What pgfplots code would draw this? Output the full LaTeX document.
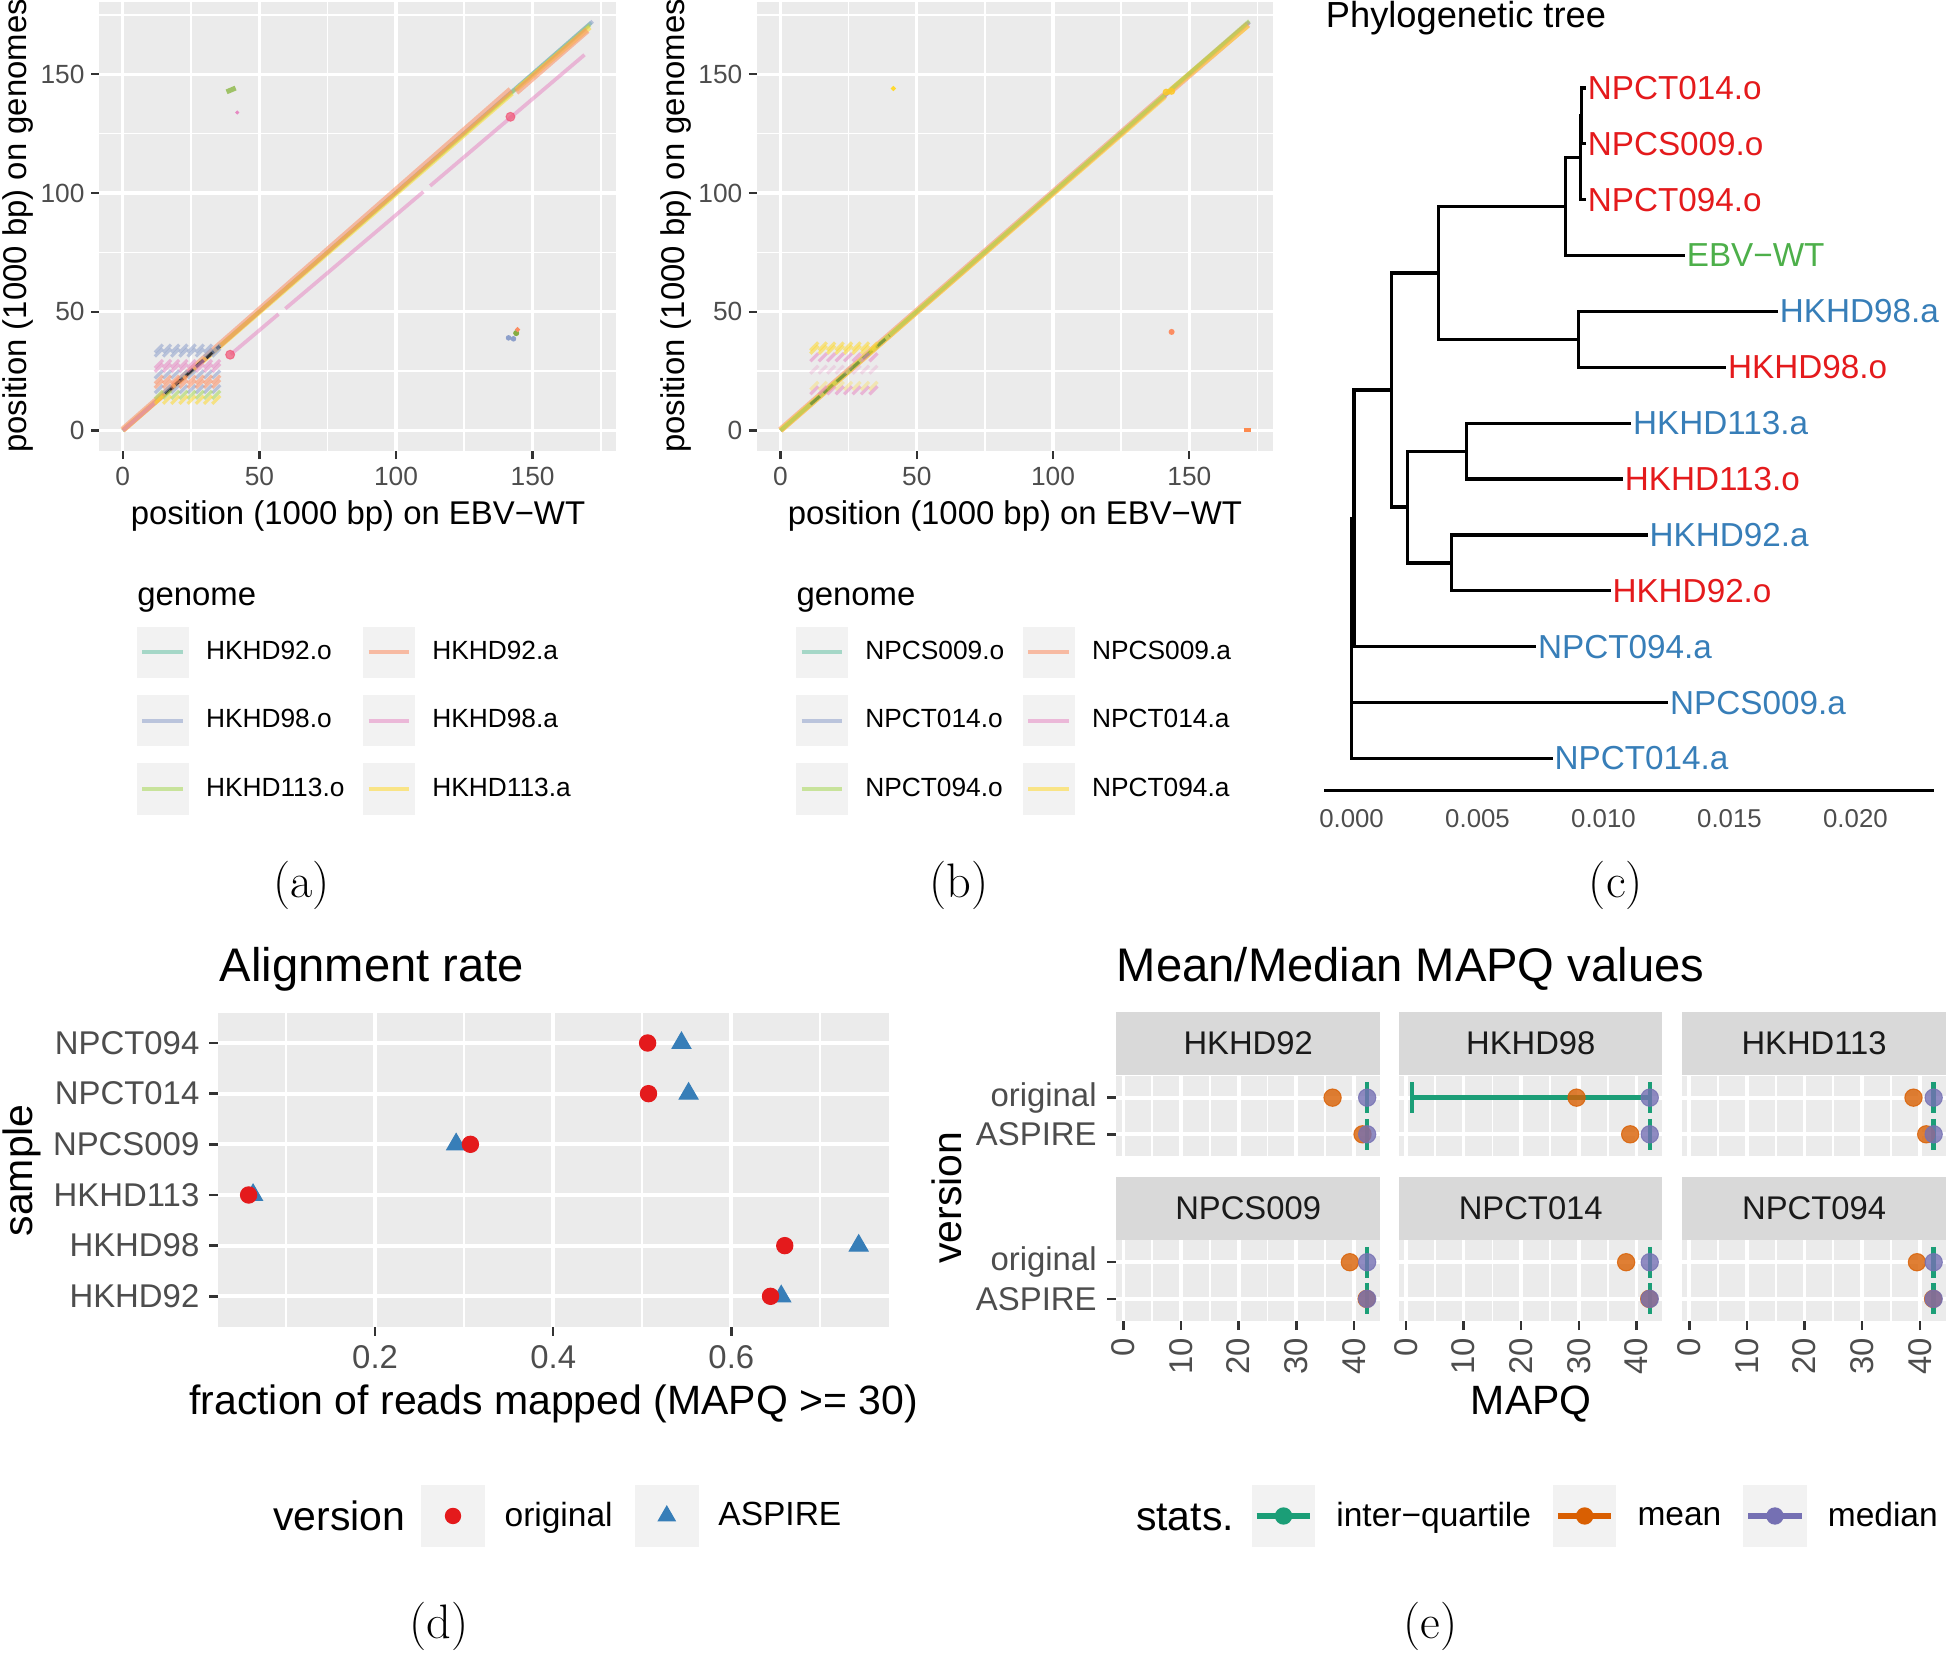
\documentclass[border=0pt]{standalone}
\usepackage{fontspec}
\setsansfont{Liberation Sans}
\renewcommand{\familydefault}{\sfdefault}
\usepackage{pgfplots}
\pgfplotsset{compat=1.18}

\definecolor{ggbg}{HTML}{EBEBEB}
\definecolor{ggkey}{HTML}{F2F2F2}
\definecolor{ggstrip}{HTML}{D9D9D9}
\definecolor{g30}{HTML}{4D4D4D}
\definecolor{g20}{HTML}{333333}
\definecolor{g10}{HTML}{1A1A1A}
\definecolor{sA}{HTML}{66C2A5}
\definecolor{sB}{HTML}{FC8D62}
\definecolor{sC}{HTML}{8DA0CB}
\definecolor{sD}{HTML}{E78AC3}
\definecolor{sE}{HTML}{A6D854}
\definecolor{sF}{HTML}{FFD92F}
\definecolor{red1}{HTML}{E41A1C}
\definecolor{blue1}{HTML}{377EB8}
\definecolor{green1}{HTML}{4DAF4A}
\definecolor{dgreen}{HTML}{1B9E77}
\definecolor{dorange}{HTML}{D95F02}
\definecolor{dpurple}{HTML}{7570B3}

\newcommand{\fs}[1]{\fontsize{#1}{#1}\selectfont}

% short diagonal dash, for the repeat blocks of the dot plots
\pgfdeclareplotmark{dg}{%
  \pgfpathmoveto{\pgfqpoint{-\pgfplotmarksize}{-\pgfplotmarksize}}%
  \pgfpathlineto{\pgfqpoint{\pgfplotmarksize}{\pgfplotmarksize}}%
  \pgfusepathqstroke}

\tikzset{
  seg/.style={line width=1.5pt, opacity=0.55},
  rep/.style={only marks, mark=dg, mark size=1.6pt, line width=1.3pt, opacity=0.55},
  iqr/.style={dgreen, line width=1.8pt, mark=|, mark size=6.2pt},
  mn/.style={only marks, mark=*, mark size=3.5pt, dorange, opacity=0.8},
  md/.style={only marks, mark=*, mark size=3.5pt, dpurple, opacity=0.8},
}

\pgfplotsset{
  gg/.style={
    scale only axis,
    axis background/.style={fill=ggbg},
    axis line style={draw=none},
    tick align=outside, tick pos=left,
    major tick length=3.3pt, minor tick length=0pt,
    tick style={g20, line width=0.9pt},
    grid=both,
    major grid style={white, line width=1.3pt},
    minor grid style={white, line width=0.65pt},
    /pgf/number format/assume math mode=true,
    ticklabel style={text=g30, inner sep=0pt, font=\fs{10.6}},
    unbounded coords=jump,
  },
  facet/.style={
    gg, width=106.1pt, height=32.5pt,
    xmin=-1.2, xmax=44.5, ymin=0.4, ymax=2.6,
    xtick={0,10,20,30,40}, minor xtick={5,15,25,35},
    ytick={1,2}, yticklabels={ASPIRE,original},
    major tick length=3.7pt, tick style={g20, line width=1pt},
    ticklabel style={font=\fs{13.25}},
    major grid style={white, line width=1.5pt},
    minor grid style={white, line width=0.75pt},
    yticklabel shift=4.1pt,
    every axis title/.style={at={(0.5,1)}, anchor=south, fill=ggstrip,
      minimum width=106.1pt, minimum height=25.4pt, inner sep=0pt,
      text=g10, font=\fs{13.2}},
  },
  toprow/.style={xticklabels={}, xtick style={draw=none}},
  botrow/.style={xticklabel style={rotate=90, anchor=east}, xticklabel shift=3.05pt},
  noy/.style={yticklabels={}, ytick style={draw=none}},
}

\newcommand{\keyA}[1]{%
  \path[draw=none, fill=none] (-7.5pt,-13.75pt) rectangle (27.9pt,13.75pt);
  \fill[ggkey, draw=none] (0pt,-10.4pt) rectangle (20.9pt,10.4pt);
  \draw[#1, opacity=0.55, line width=1.6pt] (2.2pt,0pt) -- (18.7pt,0pt);}
\newcommand{\keyD}[1]{%
  \path[draw=none, fill=none] (-9pt,-12.6pt) rectangle (33.6pt,12.6pt);
  \fill[ggkey, draw=none] (0pt,-12.6pt) rectangle (25.6pt,12.6pt);
  #1}
\newcommand{\keyE}[1]{%
  \path[draw=none, fill=none] (-8.8pt,-12.6pt) rectangle (34.1pt,12.6pt);
  \fill[ggkey, draw=none] (0pt,-12.6pt) rectangle (25.6pt,12.6pt);
  \draw[#1, line width=2.2pt] (2pt,0pt) -- (23.6pt,0pt);
  \fill[#1, draw=none] (12.8pt,0pt) circle (3.5pt);}
\newcommand{\ph}{\vphantom{Ag}}

\begin{document}
\begin{tikzpicture}
\useasboundingbox (0,0) rectangle (784pt,-666pt);

%%%%%%%%%%%%%%%% (a) dot plot, HKHD genomes
\begin{axis}[gg, at={(40pt,-0.65pt)}, anchor=north west, width=208.25pt, height=181pt,
  xmin=-8.6, xmax=180.6, ymin=-8.6, ymax=180.6,
  xtick={0,50,100,150}, ytick={0,50,100,150},
  minor xtick={25,75,125,175}, minor ytick={25,75,125,175},
  xticklabel shift=3.2pt, yticklabel shift=2.45pt,
  legend columns=2, legend cell align=left,
  legend style={at={(0.0365,-0.3724)}, anchor=north west, draw=none, fill=none,
    inner sep=0pt, outer sep=0pt, nodes={inner sep=0pt}, font=\fs{10.6},
    column sep=0pt, row sep=0pt},
]
\addplot[forget plot, seg, sA] coordinates {(0,0) (171.5,171.8)};
\addplot[forget plot, seg, sC] coordinates {(0,0) (172,172.3)};
\addplot[forget plot, seg, sE] coordinates {(0,0) (171,170.8)};
\addplot[forget plot, seg, sF, line width=2pt] coordinates {(0,0) (142.5,142) (nan,nan) (144,143.5) (171,169.8)};
\addplot[forget plot, seg, sB, line width=2.6pt] coordinates {(0,0.3) (142,143.5) (nan,nan) (144,142.5) (170,168.5)};
\addplot[forget plot, seg, sD] coordinates {(0,0) (12,12) (nan,nan) (39.5,32) (57,49) (nan,nan)
  (59.5,51.3) (110,100.5) (nan,nan) (112.5,103) (169,158.2)};
\addplot[forget plot, g20, line width=1.3pt, dash pattern=on 4pt off 1.5pt] coordinates {(15.5,15.5) (35.5,35.5)};
\addplot[forget plot, only marks, mark=*, mark size=1.8pt, color=sD!60!red, opacity=0.7] coordinates {(39.3,31.9) (141.9,132.1)};
\addplot[forget plot, sE!85!black, line width=2pt, opacity=0.8] coordinates {(38,142.6) (41.3,144.2)};
\addplot[forget plot, only marks, mark=*, mark size=0.6pt, sD] coordinates {(41.9,133.9)};
\addplot[forget plot, only marks, mark=*, mark size=0.9pt, sC] coordinates {(141.2,39) (143,38.6)};
\addplot[forget plot, only marks, mark=*, mark size=1pt, sE!80!black] coordinates {(144,41)};
\addplot[forget plot, only marks, mark=*, mark size=0.8pt, sB] coordinates {(144.5,42.5)};
% repeat block
\addplot[forget plot, rep, sC] coordinates {
  (13.2,34.5) (16.2,34.5) (19.2,34.5) (22.2,34.5) (25.2,34.5) (28.2,34.5) (31.2,34.5) (34.2,34.5)
  (13.2,32.8) (16.2,32.8) (19.2,32.8) (22.2,32.8) (25.2,32.8) (28.2,32.8) (31.2,32.8) (34.2,32.8)
  (13.2,23.6) (16.2,23.6) (19.2,23.6) (22.2,23.6) (25.2,23.6) (28.2,23.6) (31.2,23.6) (34.2,23.6)
  (13.2,17.4) (16.2,17.4) (19.2,17.4) (22.2,17.4) (25.2,17.4) (28.2,17.4) (31.2,17.4) (34.2,17.4)};
\addplot[forget plot, rep, sD] coordinates {
  (13.2,28) (16.2,28) (19.2,28) (22.2,28) (25.2,28) (28.2,28) (31.2,28) (34.2,28)
  (13.2,26.4) (16.2,26.4) (19.2,26.4) (22.2,26.4) (25.2,26.4) (28.2,26.4) (31.2,26.4) (34.2,26.4)};
\addplot[forget plot, rep, sB] coordinates {
  (13.2,21.4) (16.2,21.4) (19.2,21.4) (22.2,21.4) (25.2,21.4) (28.2,21.4) (31.2,21.4) (34.2,21.4)
  (13.2,19.6) (16.2,19.6) (19.2,19.6) (22.2,19.6) (25.2,19.6) (28.2,19.6) (31.2,19.6) (34.2,19.6)};
\addplot[forget plot, rep, sE] coordinates {
  (13.2,15) (16.2,15) (19.2,15) (22.2,15) (25.2,15) (28.2,15) (31.2,15) (34.2,15)};
\addplot[forget plot, rep, sF] coordinates {
  (13.2,12.9) (16.2,12.9) (19.2,12.9) (22.2,12.9) (25.2,12.9) (28.2,12.9) (31.2,12.9) (34.2,12.9)};
\addlegendimage{legend image code/.code={\keyA{sA}}}\addlegendentry{HKHD92.o}
\addlegendimage{legend image code/.code={\keyA{sB}}}\addlegendentry{HKHD92.a}
\addlegendimage{legend image code/.code={\keyA{sC}}}\addlegendentry{HKHD98.o}
\addlegendimage{legend image code/.code={\keyA{sD}}}\addlegendentry{HKHD98.a}
\addlegendimage{legend image code/.code={\keyA{sE}}}\addlegendentry{HKHD113.o}
\addlegendimage{legend image code/.code={\keyA{sF}}}\addlegendentry{HKHD113.a}
\end{axis}

%%%%%%%%%%%%%%%% (b) dot plot, NPC genomes
\begin{axis}[gg, at={(305pt,-0.65pt)}, anchor=north west, width=207.75pt, height=181pt,
  xmin=-8.6, xmax=180.6, ymin=-8.6, ymax=180.6,
  xtick={0,50,100,150}, ytick={0,50,100,150},
  minor xtick={25,75,125,175}, minor ytick={25,75,125,175},
  xticklabel shift=3.2pt, yticklabel shift=2.45pt,
  legend columns=2, legend cell align=left,
  legend style={at={(0.0395,-0.3724)}, anchor=north west, draw=none, fill=none,
    inner sep=0pt, outer sep=0pt, nodes={inner sep=0pt}, font=\fs{10.6},
    column sep=0pt, row sep=0pt},
]
\addplot[forget plot, seg, sA] coordinates {(0,0) (172,172)};
\addplot[forget plot, seg, sC] coordinates {(0,0) (172,172)};
\addplot[forget plot, seg, sD] coordinates {(0,0) (172,172)};
\addplot[forget plot, seg, sB, line width=2.6pt] coordinates {(0,0.2) (141,141.3) (nan,nan) (143.5,143.3) (171.5,171)};
\addplot[forget plot, seg, sF, line width=2.2pt] coordinates {(0,0) (141,140.6) (nan,nan) (142,142.2) (171.5,170.6)};
\addplot[forget plot, seg, sE] coordinates {(0,0) (172,172.5)};
\addplot[forget plot, sE!65!black, line width=1.2pt, opacity=0.8, dash pattern=on 5pt off 2pt] coordinates {(11,11) (40,40)};
\addplot[forget plot, only marks, mark=*, mark size=1.2pt, sF!80!orange, opacity=0.8] coordinates {(141.5,142.5) (143.5,142.8)};
\addplot[forget plot, only marks, mark=*, mark size=0.8pt, sF] coordinates {(41.4,144)};
\addplot[forget plot, only marks, mark=*, mark size=1pt, sB] coordinates {(143.5,41.5)};
\addplot[forget plot, sB!80!orange, line width=1.6pt] coordinates {(170,0.3) (172.5,0.3)};
\addplot[forget plot, rep, sF] coordinates {
  (12.4,35.4) (15.5,35.4) (18.6,35.4) (21.7,35.4) (24.8,35.4) (27.9,35.4) (31,35.4) (34.1,35.4)
  (12.4,34) (15.5,34) (18.6,34) (21.7,34) (24.8,34) (27.9,34) (31,34) (34.1,34)};
\addplot[forget plot, rep, sD] coordinates {
  (12.4,30.8) (15.5,30.8) (18.6,30.8) (21.7,30.8) (24.8,30.8) (27.9,30.8) (31,30.8) (34.1,30.8)
  (12.4,16.9) (15.5,16.9) (18.6,16.9) (21.7,16.9) (24.8,16.9) (27.9,16.9) (31,16.9) (34.1,16.9)};
\addplot[forget plot, rep, sD, opacity=0.25] coordinates {
  (12.4,25.6) (15.5,25.6) (18.6,25.6) (21.7,25.6) (24.8,25.6) (27.9,25.6) (31,25.6) (34.1,25.6)};
\addplot[forget plot, rep, sF, opacity=0.3] coordinates {
  (12.4,18.8) (15.5,18.8) (18.6,18.8) (21.7,18.8) (24.8,18.8) (27.9,18.8) (31,18.8) (34.1,18.8)};
\addlegendimage{legend image code/.code={\keyA{sA}}}\addlegendentry{NPCS009.o}
\addlegendimage{legend image code/.code={\keyA{sB}}}\addlegendentry{NPCS009.a}
\addlegendimage{legend image code/.code={\keyA{sC}}}\addlegendentry{NPCT014.o}
\addlegendimage{legend image code/.code={\keyA{sD}}}\addlegendentry{NPCT014.a}
\addlegendimage{legend image code/.code={\keyA{sE}}}\addlegendentry{NPCT094.o}
\addlegendimage{legend image code/.code={\keyA{sF}}}\addlegendentry{NPCT094.a}
\end{axis}

%%%%%%%%%%%%%%%% (c) phylogenetic tree
\begin{axis}[at={(533.5pt,-318.5pt)}, anchor=south west, scale only axis,
  width=245.5pt, height=298.85pt,
  xmin=-0.001084, xmax=0.023103, ymin=0.427, ymax=13.7,
  axis x line*=bottom, axis y line=none,
  x axis line style={line width=1.25pt, black, -},
  xtick={0,0.005,0.01,0.015,0.02}, scaled x ticks=false,
  xticklabel style={/pgf/number format/fixed, /pgf/number format/fixed zerofill,
    /pgf/number format/precision=3, text=g30, font=\fs{10.4}, inner sep=0pt},
  major tick length=0pt, xticklabel shift=7.25pt,
  /pgf/number format/assume math mode=true,
  clip=false, unbounded coords=jump,
]
\addplot[black, line width=1.3pt, line join=miter] coordinates {
  (0.0001,5.297) (0,5.297) (0,1) (0.00798,1) (nan,nan)
  (0,2) (0.01257,2) (nan,nan)
  (0.00159,7.594) (0.0001,7.594) (0.0001,3) (0.00733,3) (nan,nan)
  (0.00344,9.6875) (0.00159,9.6875) (0.00159,5.5) (0.00221,5.5) (nan,nan)
  (0.00848,10.875) (0.00344,10.875) (0.00344,8.5) (0.00902,8.5) (nan,nan)
  (0.0091,11.75) (0.00848,11.75) (0.00848,10) (0.01323,10) (nan,nan)
  (0.00912,12.5) (0.0091,12.5) (0.0091,11) (0.0093,11) (nan,nan)
  (0.0093,13) (0.00912,13) (0.00912,12) (0.0093,12) (nan,nan)
  (0.01692,9) (0.00902,9) (0.00902,8) (0.01487,8) (nan,nan)
  (0.00457,6.5) (0.00221,6.5) (0.00221,4.5) (0.00397,4.5) (nan,nan)
  (0.0111,7) (0.00457,7) (0.00457,6) (0.01077,6) (nan,nan)
  (0.01175,5) (0.00397,5) (0.00397,4) (0.01028,4)};
\begin{scope}[every node/.style={anchor=west, inner sep=0.6pt, font=\fs{13.4}}]
\node[text=red1] at (axis cs:0.0093,13) {NPCT014.o};
\node[text=red1] at (axis cs:0.0093,12) {NPCS009.o};
\node[text=red1] at (axis cs:0.0093,11) {NPCT094.o};
\node[text=green1] at (axis cs:0.01323,10) {EBV−WT};
\node[text=blue1] at (axis cs:0.01692,9) {HKHD98.a};
\node[text=red1] at (axis cs:0.01487,8) {HKHD98.o};
\node[text=blue1] at (axis cs:0.0111,7) {HKHD113.a};
\node[text=red1] at (axis cs:0.01077,6) {HKHD113.o};
\node[text=blue1] at (axis cs:0.01175,5) {HKHD92.a};
\node[text=red1] at (axis cs:0.01028,4) {HKHD92.o};
\node[text=blue1] at (axis cs:0.00733,3) {NPCT094.a};
\node[text=blue1] at (axis cs:0.01257,2) {NPCS009.a};
\node[text=blue1] at (axis cs:0.00798,1) {NPCT014.a};
\end{scope}
\end{axis}

%%%%%%%%%%%%%%%% (d) alignment rate
\begin{axis}[gg, at={(87.9pt,-407.95pt)}, anchor=north west, width=270.25pt, height=126.55pt,
  xmin=0.0238, xmax=0.777, ymin=0.4, ymax=6.6,
  xtick={0.2,0.4,0.6}, minor xtick={0.1,0.3,0.5,0.7},
  ytick={1,2,3,4,5,6}, yticklabels={HKHD92,HKHD98,HKHD113,NPCS009,NPCT014,NPCT094},
  major tick length=3.65pt, tick style={g20, line width=1pt},
  ticklabel style={font=\fs{13.25}},
  major grid style={white, line width=1.5pt},
  minor grid style={white, line width=0.75pt},
  xticklabel shift=3.85pt, yticklabel shift=3.75pt,
  legend columns=2, legend cell align=left,
  legend style={at={(0.2694,-0.503)}, anchor=north west, draw=none, fill=none,
    inner sep=0pt, outer sep=0pt, nodes={inner sep=0pt}, font=\fs{13.5},
    column sep=0pt, row sep=0pt},
]
\addplot[forget plot, only marks, mark=triangle*, mark size=4.4pt, blue1] coordinates {
  (0.656,1) (0.743,2) (0.063,3) (0.291,4) (0.552,5) (0.544,6)};
\addplot[forget plot, only marks, mark=*, mark size=3.3pt, red1] coordinates {
  (0.644,1) (0.660,2) (0.058,3) (0.307,4) (0.507,5) (0.506,6)};
\addlegendimage{legend image code/.code={\keyD{\fill[red1, draw=none] (12.8pt,0pt) circle (3.3pt);}}}
\addlegendentry{\ph original}
\addlegendimage{legend image code/.code={\keyD{\fill[blue1, draw=none] (12.8pt,4.4pt) -- (8.99pt,-2.2pt) -- (16.61pt,-2.2pt) -- cycle;}}}
\addlegendentry{\ph ASPIRE}
\end{axis}

%%%%%%%%%%%%%%%% (e) MAPQ facets
\begin{axis}[facet, toprow, at={(449.8pt,-433.35pt)}, anchor=north west, title={HKHD92}]
\addplot[iqr] coordinates {(42.3,2)};
\addplot[iqr] coordinates {(42.3,1)};
\addplot[mn] coordinates {(36.3,2) (41.5,1)};
\addplot[md] coordinates {(42.3,2) (42.3,1)};
\end{axis}
\begin{axis}[facet, toprow, noy, at={(563.65pt,-433.35pt)}, anchor=north west, title={HKHD98}]
\addplot[iqr] coordinates {(1.0,2) (42.3,2)};
\addplot[iqr] coordinates {(42.3,1)};
\addplot[mn] coordinates {(29.6,2) (38.9,1)};
\addplot[md] coordinates {(42.3,2) (42.3,1)};
\end{axis}
\begin{axis}[facet, toprow, noy, at={(677.8pt,-433.35pt)}, anchor=north west, title={HKHD113}]
\addplot[iqr] coordinates {(42.4,2)};
\addplot[iqr] coordinates {(42.4,1)};
\addplot[mn] coordinates {(38.9,2) (41.1,1)};
\addplot[md] coordinates {(42.4,2) (42.4,1)};
\end{axis}
\begin{axis}[facet, botrow, at={(449.8pt,-499.65pt)}, anchor=north west, title={NPCS009}]
\addplot[iqr] coordinates {(42.3,2)};
\addplot[iqr] coordinates {(42.3,1)};
\addplot[mn] coordinates {(39.3,2) (42.2,1)};
\addplot[md] coordinates {(42.3,2) (42.3,1)};
\end{axis}
\begin{axis}[facet, botrow, noy, at={(563.65pt,-499.65pt)}, anchor=north west, title={NPCT014},
  legend columns=3, legend cell align=left,
  legend style={at={(-0.6423,-2.031)}, anchor=north west, draw=none, fill=none,
    inner sep=0pt, outer sep=0pt, nodes={inner sep=0pt}, font=\fs{13.5},
    column sep=0pt, row sep=0pt},
]
\addplot[iqr, forget plot] coordinates {(42.3,2)};
\addplot[iqr, forget plot] coordinates {(42.3,1)};
\addplot[mn, forget plot] coordinates {(38.2,2) (42.2,1)};
\addplot[md, forget plot] coordinates {(42.3,2) (42.3,1)};
\addlegendimage{legend image code/.code={\keyE{dgreen}}}\addlegendentry{\ph inter−quartile}
\addlegendimage{legend image code/.code={\keyE{dorange}}}\addlegendentry{\ph mean}
\addlegendimage{legend image code/.code={\keyE{dpurple}}}\addlegendentry{\ph median}
\end{axis}
\begin{axis}[facet, botrow, noy, at={(677.8pt,-499.65pt)}, anchor=north west, title={NPCT094}]
\addplot[iqr] coordinates {(42.4,2)};
\addplot[iqr] coordinates {(42.4,1)};
\addplot[mn] coordinates {(39.5,2) (42.3,1)};
\addplot[md] coordinates {(42.4,2) (42.4,1)};
\end{axis}

%%%%%%%%%%%%%%%% titles, axis titles, legend titles, panel letters
\begin{scope}[every node/.style={inner sep=0pt}]
\node[rotate=90, font=\fs{13.25}] at (7.2pt,-91pt) {position (1000 bp) on genomes};
\node[anchor=base, font=\fs{13.25}] at (144.25pt,-211.5pt) {position (1000 bp) on EBV−WT};
\node[rotate=90, font=\fs{13.25}] at (272.35pt,-91pt) {position (1000 bp) on genomes};
\node[anchor=base, font=\fs{13.25}] at (408.9pt,-211.5pt) {position (1000 bp) on EBV−WT};
\node[anchor=base west, font=\fs{13.25}] at (55.1pt,-244pt) {genome};
\node[anchor=base west, font=\fs{13.25}] at (320.7pt,-244pt) {genome};
\node[anchor=base west, font=\fs{14.6}] at (534pt,-11.25pt) {Phylogenetic tree};

\node[anchor=base west, font=\fs{19}] at (88.4pt,-395.5pt) {Alignment rate};
\node[anchor=base west, font=\fs{19}] at (449.8pt,-395.5pt) {Mean/Median MAPQ values};
\node[anchor=base, font=\fs{16.5}] at (223pt,-570pt) {fraction of reads mapped (MAPQ >= 30)};
\node[rotate=90, font=\fs{16.5}] at (9pt,-471.5pt) {sample};
\node[rotate=90, font=\fs{16.5}] at (381.5pt,-482.5pt) {version};
\node[anchor=base, font=\fs{16.5}] at (616.9pt,-570pt) {MAPQ};
\node[anchor=base west, font=\fs{16.5}] at (109.85pt,-616.5pt) {version};
\node[anchor=base west, font=\fs{16.5}] at (457.5pt,-616.5pt) {stats.};

\node[anchor=base, font=\rmfamily\fs{19.5}] at (121.5pt,-361.5pt) {(a)};
\node[anchor=base, font=\rmfamily\fs{19.5}] at (386.5pt,-361.5pt) {(b)};
\node[anchor=base, font=\rmfamily\fs{19.5}] at (651pt,-361.5pt) {(c)};
\node[anchor=base, font=\rmfamily\fs{19.5}] at (177pt,-660pt) {(d)};
\node[anchor=base, font=\rmfamily\fs{19.5}] at (576.2pt,-660pt) {(e)};
\end{scope}
\end{tikzpicture}
\end{document}
